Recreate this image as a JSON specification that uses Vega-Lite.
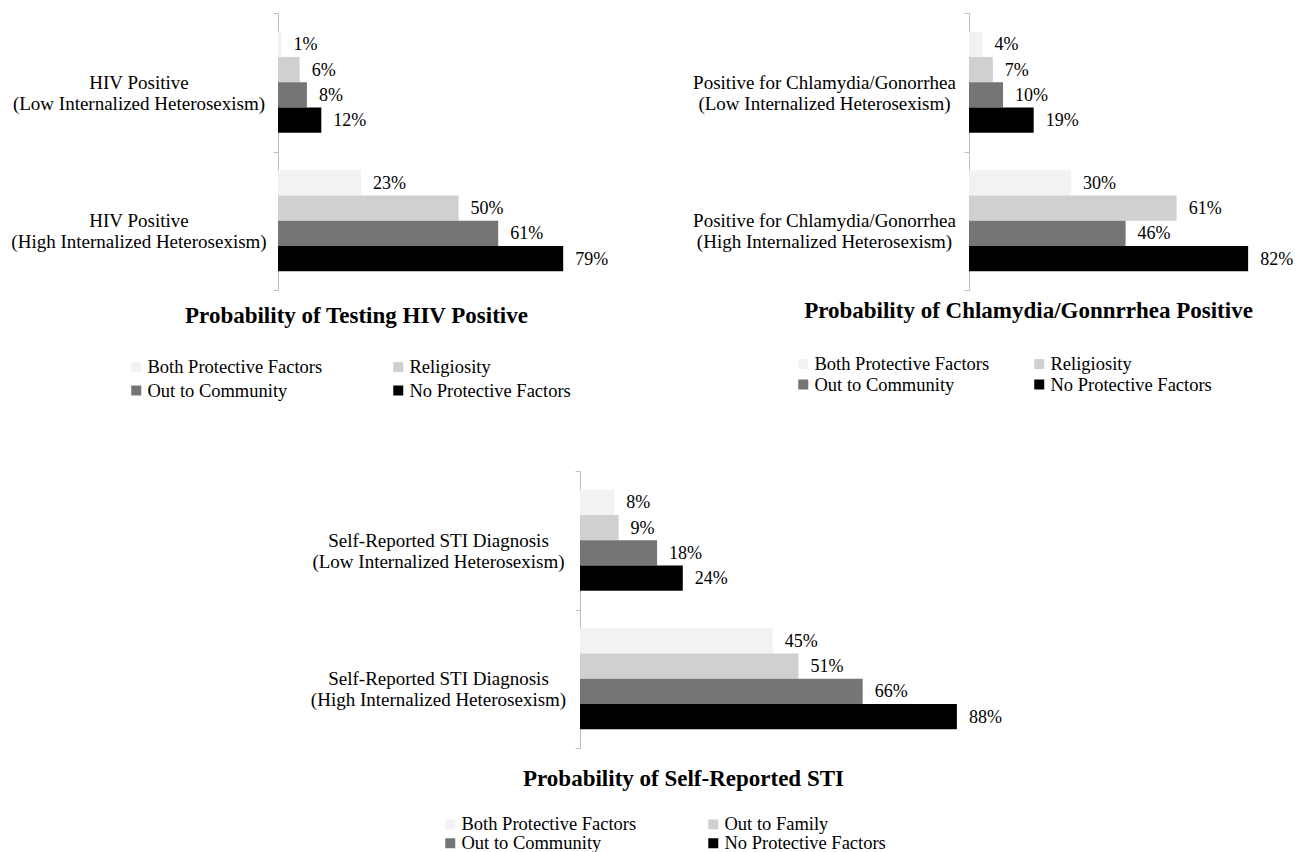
{
  "$schema": "https://vega.github.io/schema/vega-lite/v6.json",
  "background": "white",
  "padding": {"left": 10, "top": 4, "right": 0, "bottom": 0},
  "config": {
    "view": {"stroke": null},
    "font": "Liberation Serif",
    "axisY": {
      "domainColor": "#bfbfbf",
      "tickColor": "#bfbfbf",
      "tickSize": 5,
      "tickBand": "extent",
      "grid": false,
      "labelFont": "Liberation Serif",
      "labelFontSize": 19,
      "labelColor": "#000000",
      "labelAlign": "center",
      "labelBaseline": "middle",
      "labelLineHeight": 21,
      "labelLimit": 400,
      "title": null
    },
    "axisX": {
      "domain": false,
      "ticks": false,
      "labels": false,
      "grid": false,
      "titleFont": "Liberation Serif",
      "titleFontSize": 23,
      "titleFontWeight": "bold",
      "titleColor": "#000000",
      "titleAlign": "center",
      "titleBaseline": "middle"
    },
    "legend": {
      "title": null,
      "orient": "none",
      "columns": 2,
      "labelFont": "Liberation Serif",
      "labelFontSize": 18.5,
      "labelColor": "#000000",
      "labelOffset": 2,
      "labelLimit": 400,
      "symbolType": "square",
      "symbolSize": 100,
      "symbolStrokeWidth": 0
    }
  },
  "datasets": {
    "hiv": [
      {"cat": "HIV Positive|(Low Internalized Heterosexism)", "factor": "Both Protective Factors", "value": 0.01},
      {"cat": "HIV Positive|(Low Internalized Heterosexism)", "factor": "Religiosity", "value": 0.06},
      {"cat": "HIV Positive|(Low Internalized Heterosexism)", "factor": "Out to Community", "value": 0.08},
      {"cat": "HIV Positive|(Low Internalized Heterosexism)", "factor": "No Protective Factors", "value": 0.12},
      {"cat": "HIV Positive|(High Internalized Heterosexism)", "factor": "Both Protective Factors", "value": 0.23},
      {"cat": "HIV Positive|(High Internalized Heterosexism)", "factor": "Religiosity", "value": 0.50},
      {"cat": "HIV Positive|(High Internalized Heterosexism)", "factor": "Out to Community", "value": 0.61},
      {"cat": "HIV Positive|(High Internalized Heterosexism)", "factor": "No Protective Factors", "value": 0.79}
    ],
    "chl": [
      {"cat": "Positive for Chlamydia/Gonorrhea|(Low Internalized Heterosexism)", "factor": "Both Protective Factors", "value": 0.04},
      {"cat": "Positive for Chlamydia/Gonorrhea|(Low Internalized Heterosexism)", "factor": "Religiosity", "value": 0.07},
      {"cat": "Positive for Chlamydia/Gonorrhea|(Low Internalized Heterosexism)", "factor": "Out to Community", "value": 0.10},
      {"cat": "Positive for Chlamydia/Gonorrhea|(Low Internalized Heterosexism)", "factor": "No Protective Factors", "value": 0.19},
      {"cat": "Positive for Chlamydia/Gonorrhea|(High Internalized Heterosexism)", "factor": "Both Protective Factors", "value": 0.30},
      {"cat": "Positive for Chlamydia/Gonorrhea|(High Internalized Heterosexism)", "factor": "Religiosity", "value": 0.61},
      {"cat": "Positive for Chlamydia/Gonorrhea|(High Internalized Heterosexism)", "factor": "Out to Community", "value": 0.46},
      {"cat": "Positive for Chlamydia/Gonorrhea|(High Internalized Heterosexism)", "factor": "No Protective Factors", "value": 0.82}
    ],
    "sti": [
      {"cat": "Self-Reported STI Diagnosis|(Low Internalized Heterosexism)", "factor": "Both Protective Factors", "value": 0.08},
      {"cat": "Self-Reported STI Diagnosis|(Low Internalized Heterosexism)", "factor": "Out to Family", "value": 0.09},
      {"cat": "Self-Reported STI Diagnosis|(Low Internalized Heterosexism)", "factor": "Out to Community", "value": 0.18},
      {"cat": "Self-Reported STI Diagnosis|(Low Internalized Heterosexism)", "factor": "No Protective Factors", "value": 0.24},
      {"cat": "Self-Reported STI Diagnosis|(High Internalized Heterosexism)", "factor": "Both Protective Factors", "value": 0.45},
      {"cat": "Self-Reported STI Diagnosis|(High Internalized Heterosexism)", "factor": "Out to Family", "value": 0.51},
      {"cat": "Self-Reported STI Diagnosis|(High Internalized Heterosexism)", "factor": "Out to Community", "value": 0.66},
      {"cat": "Self-Reported STI Diagnosis|(High Internalized Heterosexism)", "factor": "No Protective Factors", "value": 0.88}
    ]
  },
  "resolve": {
    "scale": {"color": "independent", "x": "independent", "y": "independent", "yOffset": "independent"},
    "legend": {"color": "independent"},
    "axis": {"x": "independent", "y": "independent"}
  },
  "center": true,
  "spacing": 61,
  "vconcat": [
    {
      "spacing": 53,
      "resolve": {
        "scale": {"color": "independent", "x": "independent", "y": "independent", "yOffset": "independent"},
        "legend": {"color": "independent"},
        "axis": {"x": "independent", "y": "independent"}
      },
      "hconcat": [
        {
          "data": {"name": "hiv"},
          "width": 361,
          "height": 277,
          "encoding": {
            "y": {
              "field": "cat", "type": "nominal",
              "sort": ["HIV Positive|(Low Internalized Heterosexism)", "HIV Positive|(High Internalized Heterosexism)"],
              "scale": {"paddingInner": 0, "paddingOuter": 0},
              "axis": {"labelExpr": "isString(datum.value) ? split(datum.value, '|') : ''", "labelPadding": 134.5}
            },
            "yOffset": {
              "field": "factor", "type": "nominal",
              "sort": ["Both Protective Factors", "Religiosity", "Out to Community", "No Protective Factors"],
              "scale": {"paddingInner": 0, "paddingOuter": 0.74}
            },
            "x": {
              "field": "value", "type": "quantitative",
              "scale": {"domain": [0, 1]},
              "axis": {"title": "Probability of Testing HIV Positive", "titleX": 78, "titleY": 25}
            }
          },
          "layer": [
            {
              "mark": {"type": "bar"},
              "encoding": {
                "color": {
                  "field": "factor", "type": "nominal",
                  "scale": {"domain": ["Both Protective Factors", "Out to Community", "Religiosity", "No Protective Factors"], "range": ["#f2f2f2", "#757575", "#d0d0d0", "#000000"]},
                  "legend": {"legendX": -151, "legendY": 344.75, "columnPadding": 66, "rowPadding": 4.5}
                }
              }
            },
            {
              "mark": {"type": "text", "align": "left", "baseline": "middle", "dx": 12, "dy": 1, "font": "Liberation Serif", "fontSize": 18, "color": "#000000"},
              "encoding": {"text": {"field": "value", "type": "quantitative", "format": ".0%"}}
            }
          ]
        },
        {
          "data": {"name": "chl"},
          "width": 337,
          "height": 277,
          "encoding": {
            "y": {
              "field": "cat", "type": "nominal",
              "sort": ["Positive for Chlamydia/Gonorrhea|(Low Internalized Heterosexism)", "Positive for Chlamydia/Gonorrhea|(High Internalized Heterosexism)"],
              "scale": {"paddingInner": 0, "paddingOuter": 0},
              "axis": {"labelExpr": "isString(datum.value) ? split(datum.value, '|') : ''", "labelPadding": 140}
            },
            "yOffset": {
              "field": "factor", "type": "nominal",
              "sort": ["Both Protective Factors", "Religiosity", "Out to Community", "No Protective Factors"],
              "scale": {"paddingInner": 0, "paddingOuter": 0.74}
            },
            "x": {
              "field": "value", "type": "quantitative",
              "scale": {"domain": [0, 0.99]},
              "axis": {"title": "Probability of Chlamydia/Gonnrrhea Positive", "titleX": 59, "titleY": 20}
            }
          },
          "layer": [
            {
              "mark": {"type": "bar"},
              "encoding": {
                "color": {
                  "field": "factor", "type": "nominal",
                  "scale": {"domain": ["Both Protective Factors", "Out to Community", "Religiosity", "No Protective Factors"], "range": ["#f2f2f2", "#757575", "#d0d0d0", "#000000"]},
                  "legend": {"legendX": -175, "legendY": 341.75, "columnPadding": 40, "rowPadding": 1.5}
                }
              }
            },
            {
              "mark": {"type": "text", "align": "left", "baseline": "middle", "dx": 12, "dy": 1, "font": "Liberation Serif", "fontSize": 18, "color": "#000000"},
              "encoding": {"text": {"field": "value", "type": "quantitative", "format": ".0%"}}
            }
          ]
        }
      ]
    },
    {
      "data": {"name": "sti"},
      "width": 424,
      "height": 277,
      "encoding": {
        "y": {
          "field": "cat", "type": "nominal",
          "sort": ["Self-Reported STI Diagnosis|(Low Internalized Heterosexism)", "Self-Reported STI Diagnosis|(High Internalized Heterosexism)"],
          "scale": {"paddingInner": 0, "paddingOuter": 0},
          "axis": {"labelExpr": "isString(datum.value) ? split(datum.value, '|') : ''", "labelPadding": 137}
        },
        "yOffset": {
          "field": "factor", "type": "nominal",
          "sort": ["Both Protective Factors", "Out to Family", "Out to Community", "No Protective Factors"],
          "scale": {"paddingInner": 0, "paddingOuter": 0.74}
        },
        "x": {
          "field": "value", "type": "quantitative",
          "scale": {"domain": [0, 0.99]},
          "axis": {"title": "Probability of Self-Reported STI", "titleX": 103, "titleY": 30}
        }
      },
      "layer": [
        {
          "mark": {"type": "bar"},
          "encoding": {
            "color": {
              "field": "factor", "type": "nominal",
              "scale": {"domain": ["Both Protective Factors", "Out to Community", "Out to Family", "No Protective Factors"], "range": ["#f2f2f2", "#757575", "#d0d0d0", "#000000"]},
              "legend": {"legendX": -139, "legendY": 344, "columnPadding": 67, "rowPadding": 0}
            }
          }
        },
        {
          "mark": {"type": "text", "align": "left", "baseline": "middle", "dx": 12, "dy": 1, "font": "Liberation Serif", "fontSize": 18, "color": "#000000"},
          "encoding": {"text": {"field": "value", "type": "quantitative", "format": ".0%"}}
        }
      ]
    }
  ]
}
